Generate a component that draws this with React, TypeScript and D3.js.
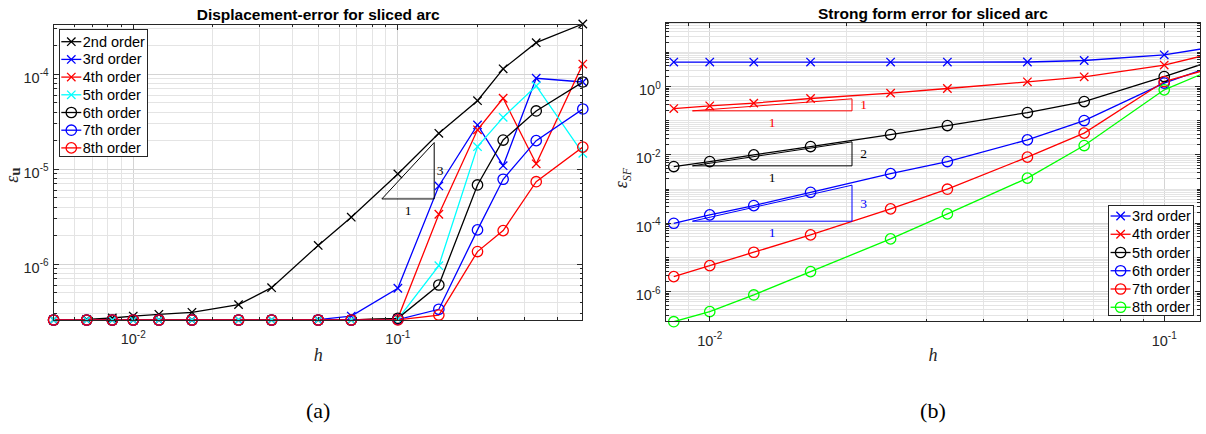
import React, { useEffect, useRef } from 'react';
import * as d3 from 'd3';

// ---- (a) displacement error, mesh size h ----
const hDisp = [1/200, 1/150, 1/120, 1/100, 1/80, 1/60, 1/40, 1/30, 1/20, 1/15, 1/10, 1/7, 1/5, 1/4, 1/3, 1/2];
const disp2nd = [2.6e-7, 2.63e-7, 2.72e-7, 2.85e-7, 2.97e-7, 3.12e-7, 3.76e-7, 5.67e-7, 1.58e-6, 3.13e-6, 8.93e-6, 2.39e-5, 5.27e-5, 1.14e-4, 2.15e-4, 3.38e-4];
const disp3rd = [2.59e-7, 2.59e-7, 2.59e-7, 2.59e-7, 2.59e-7, 2.59e-7, 2.59e-7, 2.6e-7, 2.62e-7, 2.85e-7, 5.59e-7, 6.67e-6, 2.93e-5, 1.09e-5, 9.08e-5, 8.29e-5];
const disp4th = [2.59e-7, 2.59e-7, 2.59e-7, 2.59e-7, 2.59e-7, 2.59e-7, 2.59e-7, 2.59e-7, 2.59e-7, 2.59e-7, 2.7e-7, 3.36e-6, 2.6e-5, 5.59e-5, 1.14e-5, 1.28e-4];
const disp5th = [2.59e-7, 2.59e-7, 2.59e-7, 2.59e-7, 2.59e-7, 2.59e-7, 2.59e-7, 2.59e-7, 2.59e-7, 2.59e-7, 2.65e-7, 9.67e-7, 1.73e-5, 3.52e-5, 7.53e-5, 1.47e-5];
const disp6th = [2.59e-7, 2.59e-7, 2.59e-7, 2.59e-7, 2.59e-7, 2.59e-7, 2.59e-7, 2.59e-7, 2.59e-7, 2.59e-7, 2.7e-7, 6.05e-7, 6.84e-6, 2.03e-5, 4.11e-5, 8.29e-5];
const disp7th = [2.59e-7, 2.59e-7, 2.59e-7, 2.59e-7, 2.59e-7, 2.59e-7, 2.59e-7, 2.59e-7, 2.59e-7, 2.59e-7, 2.62e-7, 3.36e-7, 2.3e-6, 7.85e-6, 2.0e-5, 4.31e-5];
const disp8th = [2.59e-7, 2.59e-7, 2.59e-7, 2.59e-7, 2.59e-7, 2.59e-7, 2.59e-7, 2.59e-7, 2.59e-7, 2.59e-7, 2.6e-7, 2.92e-7, 1.36e-6, 2.26e-6, 7.4e-6, 1.71e-5];
const dispLabels = ['2nd order', '3rd order', '4th order', '5th order', '6th order', '7th order', '8th order'];
const dispColors = ['#000000', '#0000ff', '#ff0000', '#00ffff', '#000000', '#0000ff', '#ff0000'];
const dispMarkers = ['x', 'x', 'x', 'x', 'o', 'o', 'o'];
// slope triangle (a)
const dispTriH = [0.087, 0.1372];
const dispTriBase = [4.87e-6];
const dispTriSlope = [3];

// ---- (b) strong form error ----
const hSF = [1/120, 1/100, 1/80, 1/60, 1/40, 1/30, 1/20, 1/15, 1/10, 1/7];
const sf3rd = [5.18, 5.18, 5.18, 5.18, 5.19, 5.2, 5.22, 5.77, 8.47, 17.9];
const sf4th = [0.227, 0.272, 0.327, 0.446, 0.641, 0.874, 1.37, 1.92, 4.23, 13.2];
const sf5th = [4.56e-3, 6.38e-3, 0.01, 0.01755, 0.0394, 0.0722, 0.173, 0.364, 1.96, 9.2];
const sf6th = [1.0e-4, 1.76e-4, 3.29e-4, 8.04e-4, 2.83e-3, 6.38e-3, 0.0275, 0.101, 1.26, 6.66];
const sf7th = [2.75e-6, 5.77e-6, 1.42e-5, 4.57e-5, 2.64e-4, 9.93e-4, 8.59e-3, 0.0433, 1.4, 5.25];
const sf8th = [1.32e-7, 2.6e-7, 8.0e-7, 3.85e-6, 3.49e-5, 1.88e-4, 2.09e-3, 0.01876, 0.8, 5.84];
const sfLabels = ['3rd order', '4th order', '5th order', '6th order', '7th order', '8th order'];
const sfColors = ['#0000ff', '#ff0000', '#000000', '#0000ff', '#ff0000', '#00ff00'];
const sfMarkers = ['x', 'x', 'o', 'o', 'o', 'o'];
// slope triangles (b)
const sfTriH = [0.00916, 0.02056];
const sfTriBase = [0.1945, 4.78e-3, 1.15e-4];
const sfTriSlope = [1, 2, 3];
const sfTriColors = ['#ff0000', '#000000', '#0000ff'];

const SANS = "'Liberation Sans', Arial, Helvetica, sans-serif";
const SERIF = "'Liberation Serif', 'DejaVu Serif', 'Times New Roman', serif";
const AX = '#262626';

function logTicks(dom: number[]) {
  const out: { v: number; m: number; k: number }[] = [];
  const k0 = Math.floor(Math.log10(dom[0]));
  const k1 = Math.ceil(Math.log10(dom[1]));
  for (let k = k0; k <= k1; k++) {
    for (let m = 1; m <= 9; m++) {
      const v = m * Math.pow(10, k);
      if (v >= dom[0] * 0.9999 && v <= dom[1] * 1.0001) out.push({ v, m, k });
    }
  }
  return out;
}

function drawMarker(g: any, type: string, cx: number, cy: number, color: string) {
  if (type === 'x') {
    const s = 4.2;
    g.append('path')
      .attr('d', `M${cx - s},${cy - s}L${cx + s},${cy + s}M${cx - s},${cy + s}L${cx + s},${cy - s}`)
      .attr('stroke', color).attr('stroke-width', 1.3).attr('fill', 'none');
  } else {
    g.append('circle').attr('cx', cx).attr('cy', cy).attr('r', 5.2)
      .attr('stroke', color).attr('stroke-width', 1.3).attr('fill', 'none');
  }
}

function drawPanel(svg: any, p: any) {
  const x = d3.scaleLog().domain(p.xDomain).range([p.x0, p.x1]);
  const y = d3.scaleLog().domain(p.yDomain).range([p.y1, p.y0]);
  const g = svg.append('g');

  svg.append('defs').append('clipPath').attr('id', p.id)
    .append('rect').attr('x', p.x0).attr('y', p.y0)
    .attr('width', p.x1 - p.x0).attr('height', p.y1 - p.y0);

  // background
  g.append('rect').attr('x', p.x0).attr('y', p.y0)
    .attr('width', p.x1 - p.x0).attr('height', p.y1 - p.y0).attr('fill', '#fff');

  const xt = logTicks(p.xDomain);
  const yt = logTicks(p.yDomain);

  // grid
  const grid = g.append('g').attr('shape-rendering', 'crispEdges');
  xt.forEach(t => {
    grid.append('line').attr('x1', x(t.v)).attr('x2', x(t.v)).attr('y1', p.y0).attr('y2', p.y1)
      .attr('stroke', t.m === 1 ? '#d4d4d4' : '#e4e4e4').attr('stroke-width', 1);
  });
  yt.forEach(t => {
    const major = t.m === 1 && p.yLabelExps.includes(t.k);
    grid.append('line').attr('x1', p.x0).attr('x2', p.x1).attr('y1', y(t.v)).attr('y2', y(t.v))
      .attr('stroke', major ? '#d4d4d4' : '#e4e4e4').attr('stroke-width', 1);
  });

  // data lines
  const line = d3.line<number>().x((d, i) => x(p.h[i])).y(d => y(d));
  const dataG = g.append('g');
  p.series.forEach((s: number[], i: number) => {
    dataG.append('path').datum(s).attr('d', line).attr('fill', 'none')
      .attr('stroke', p.colors[i]).attr('stroke-width', 1.3).attr('clip-path', `url(#${p.id})`);
  });

  // slope triangles
  p.tri.base.forEach((e0: number, i: number) => {
    const [h0, h1] = p.tri.h;
    const e1 = e0 * Math.pow(h1 / h0, p.tri.slope[i]);
    const c = p.tri.colors[i];
    dataG.append('path')
      .attr('d', `M${x(h0)},${y(e0)}L${x(h1)},${y(e0)}L${x(h1)},${y(e1)}Z`)
      .attr('fill', 'none').attr('stroke', c).attr('stroke-width', 1);
    dataG.append('text').attr('x', x(h1) + p.tri.dx).attr('y', (y(e0) + y(e1)) / 2 + 4.5)
      .attr('text-anchor', 'middle').attr('font-family', SERIF).attr('font-size', 13.5)
      .attr('fill', c).text(p.tri.slope[i]);
    dataG.append('text').attr('x', x(Math.sqrt(h0 * h1))).attr('y', y(e0) + 16)
      .attr('text-anchor', 'middle').attr('font-family', SERIF).attr('font-size', 13.5)
      .attr('fill', c).text('1');
  });

  // markers (drawn only inside the limits)
  p.series.forEach((s: number[], i: number) => {
    s.forEach((v, j) => {
      const hv = p.h[j];
      if (hv < p.xDomain[0] * 0.999 || hv > p.xDomain[1] * 1.001) return;
      if (v < p.yDomain[0] * 0.999 || v > p.yDomain[1] * 1.001) return;
      drawMarker(dataG, p.markers[i], x(hv), y(v), p.colors[i]);
    });
  });

  // box and ticks
  const ax = g.append('g').attr('shape-rendering', 'crispEdges');
  ax.append('rect').attr('x', p.x0).attr('y', p.y0)
    .attr('width', p.x1 - p.x0).attr('height', p.y1 - p.y0)
    .attr('fill', 'none').attr('stroke', AX).attr('stroke-width', 1);
  xt.forEach(t => {
    const len = t.m === 1 ? 5.5 : 3;
    const xx = x(t.v);
    ax.append('line').attr('x1', xx).attr('x2', xx).attr('y1', p.y1).attr('y2', p.y1 - len).attr('stroke', AX);
    ax.append('line').attr('x1', xx).attr('x2', xx).attr('y1', p.y0).attr('y2', p.y0 + len).attr('stroke', AX);
  });
  yt.forEach(t => {
    const len = t.m === 1 && p.yLabelExps.includes(t.k) ? 5.5 : 3;
    const yy = y(t.v);
    ax.append('line').attr('x1', p.x0).attr('x2', p.x0 + len).attr('y1', yy).attr('y2', yy).attr('stroke', AX);
    ax.append('line').attr('x1', p.x1).attr('x2', p.x1 - len).attr('y1', yy).attr('y2', yy).attr('stroke', AX);
  });

  // tick labels
  const expText = (k: number) => (k < 0 ? '-' + Math.abs(k) : String(k));
  xt.filter(t => t.m === 1).forEach(t => {
    const tx = g.append('text').attr('x', x(t.v)).attr('y', p.y1 + 24)
      .attr('text-anchor', 'middle').attr('font-family', SANS).attr('font-size', 14.5).attr('fill', AX);
    tx.append('tspan').text('10');
    tx.append('tspan').attr('dy', -6.5).attr('font-size', 10).text(expText(t.k));
  });
  yt.filter(t => t.m === 1 && p.yLabelExps.includes(t.k)).forEach(t => {
    const tx = g.append('text').attr('x', p.x0 - 5).attr('y', y(t.v) + 8.5)
      .attr('text-anchor', 'end').attr('font-family', SANS).attr('font-size', 14.5).attr('fill', AX);
    tx.append('tspan').text('10');
    tx.append('tspan').attr('dy', -6.5).attr('font-size', 10).text(expText(t.k));
  });

  // title
  g.append('text').attr('x', (p.x0 + p.x1) / 2).attr('y', p.y0 - 4)
    .attr('text-anchor', 'middle').attr('font-family', SANS).attr('font-weight', 'bold')
    .attr('font-size', 15.5).attr('fill', '#000').text(p.title);

  // x label
  g.append('text').attr('x', (p.x0 + p.x1) / 2).attr('y', 361)
    .attr('text-anchor', 'middle').attr('font-family', SERIF).attr('font-style', 'italic')
    .attr('font-size', 18).attr('fill', AX).text('h');

  // legend
  const L = p.legend;
  const lg = g.append('g');
  lg.append('rect').attr('x', L.x).attr('y', L.y).attr('width', L.w).attr('height', L.hgt)
    .attr('fill', '#fff').attr('stroke', AX).attr('stroke-width', 1).attr('shape-rendering', 'crispEdges');
  p.labels.forEach((lab: string, i: number) => {
    const cy = L.y + L.first + i * L.step;
    lg.append('line').attr('x1', L.x + 2).attr('x2', L.x + 22).attr('y1', cy).attr('y2', cy)
      .attr('stroke', p.colors[i]).attr('stroke-width', 1.3);
    drawMarker(lg, p.markers[i], L.x + 12, cy, p.colors[i]);
    lg.append('text').attr('x', L.x + 23.5).attr('y', cy + 5)
      .attr('font-family', SANS).attr('font-size', 14.5).attr('fill', '#000').text(lab);
  });

  // sub caption
  svg.append('text').attr('x', (p.x0 + p.x1) / 2).attr('y', 418)
    .attr('text-anchor', 'middle').attr('font-family', SERIF).attr('font-size', 22)
    .attr('fill', '#000').text(p.caption);
}

export default function App() {
  const ref = useRef<SVGSVGElement>(null);

  useEffect(() => {
    const svg = d3.select(ref.current);
    svg.selectAll('*').remove();

    drawPanel(svg, {
      id: 'clipA', x0: 53.6, x1: 582.8, y0: 24, y1: 320,
      xDomain: [0.005, 0.5], yDomain: [2.59e-7, 3.38e-4], yLabelExps: [-6, -5, -4],
      h: hDisp, series: [disp2nd, disp3rd, disp4th, disp5th, disp6th, disp7th, disp8th],
      colors: dispColors, markers: dispMarkers, labels: dispLabels,
      tri: { h: dispTriH, base: dispTriBase, slope: dispTriSlope, colors: ['#000000'], dx: 6 },
      title: 'Displacement-error for sliced arc', caption: '(a)',
      legend: { x: 59.3, y: 29.3, w: 88, hgt: 126.7, first: 12.4, step: 17.7 },
    });

    drawPanel(svg, {
      id: 'clipB', x0: 665.7, x1: 1200.2, y0: 22.5, y1: 321.7,
      xDomain: [0.008, 0.12], yDomain: [1.32e-7, 74.6], yLabelExps: [-6, -4, -2, 0],
      h: hSF, series: [sf3rd, sf4th, sf5th, sf6th, sf7th, sf8th],
      colors: sfColors, markers: sfMarkers, labels: sfLabels,
      tri: { h: sfTriH, base: sfTriBase, slope: sfTriSlope, colors: sfTriColors, dx: 11.5 },
      title: 'Strong form error for sliced arc', caption: '(b)',
      legend: { x: 1108.6, y: 205, w: 85.1, hgt: 110, first: 11, step: 18.25 },
    });

    // y labels
    const la = svg.append('text').attr('transform', 'translate(18,175) rotate(-90)')
      .attr('text-anchor', 'middle').attr('font-family', SERIF).attr('font-size', 18).attr('fill', AX);
    la.append('tspan').attr('font-style', 'italic').text('ε');
    la.append('tspan').attr('font-weight', 'bold').attr('font-size', 15).attr('dy', 2).text('u');

    const lb = svg.append('text').attr('transform', 'translate(627,178) rotate(-90)')
      .attr('text-anchor', 'middle').attr('font-family', SERIF).attr('font-size', 18).attr('fill', AX);
    lb.append('tspan').attr('font-style', 'italic').text('ε');
    lb.append('tspan').attr('font-style', 'italic').attr('font-size', 12).attr('dy', 4).text('SF');
  }, []);

  return (
    <div style={{ position: 'absolute', left: 0, top: 0 }}>
      <svg ref={ref} width={1206} height={434} style={{ display: 'block', background: '#fff' }} />
    </div>
  );
}
